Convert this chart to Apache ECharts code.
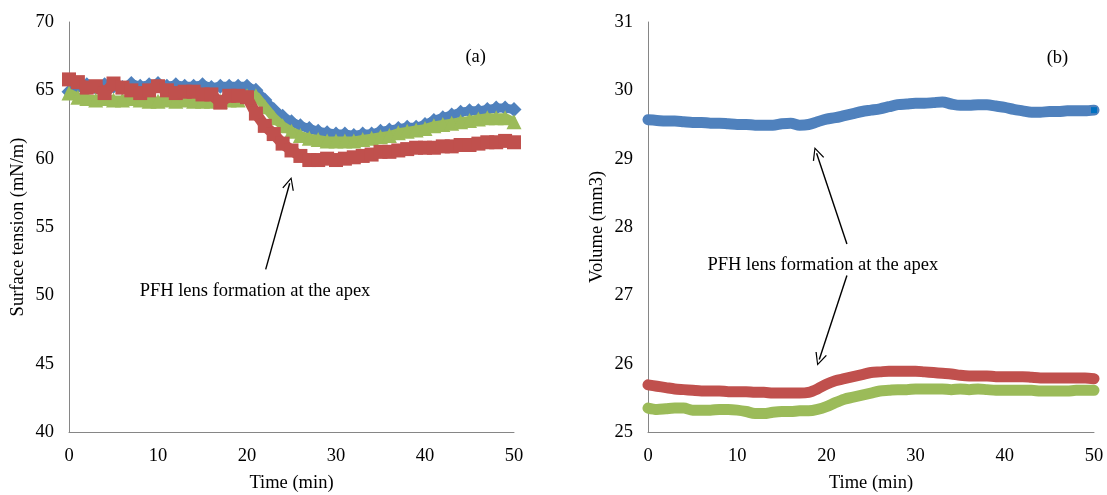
<!DOCTYPE html>
<html>
<head>
<meta charset="utf-8">
<script src="https://cdn.jsdelivr.net/npm/echarts@6/dist/echarts.min.js"></script>
<style>
  html, body { margin: 0; padding: 0; background: #fff; }
  #chart { width: 1107px; height: 495px; }
</style>
</head>
<body>
<div id="chart"></div>
<script>
// Time axis shared by both panels (minutes, one reading per minute)
const timeMin = [0,1,2,3,4,5,6,7,8,9,10,11,12,13,14,15,16,17,18,19,20,21,22,23,24,25,26,27,28,29,30,31,32,33,34,35,36,37,38,39,40,41,42,43,44,45,46,47,48,49,50];

// Panel (a): surface tension, mN/m
const tensionBlue = [64.9,65.3,65.4,65.2,65.4,65.3,65.2,65.5,65.3,65.4,65.5,65.3,65.4,65.3,65.3,65.4,65.2,65.3,65.3,65.3,65.3,65.0,64.3,63.6,63.1,62.7,62.4,62.2,62.0,61.9,61.8,61.8,61.7,61.8,61.8,62.0,62.1,62.2,62.3,62.3,62.5,62.8,63.0,63.2,63.4,63.5,63.5,63.6,63.7,63.7,63.6];
const tensionRed = [65.8,65.6,65.2,65.3,64.8,65.5,65.2,65.0,64.8,65.0,65.3,65.0,64.8,64.9,64.9,64.7,64.7,64.1,64.6,64.6,64.5,63.3,62.4,61.8,61.1,60.6,60.2,59.9,59.9,60.0,59.9,60.0,60.1,60.2,60.3,60.5,60.5,60.6,60.7,60.8,60.8,60.8,60.9,60.9,61.0,61.0,61.1,61.2,61.2,61.3,61.2];
const tensionGreen = [64.8,64.5,64.4,64.3,64.4,64.3,64.3,64.4,64.3,64.2,64.2,64.3,64.2,64.3,64.2,64.2,64.2,64.2,64.3,64.3,64.6,64.6,63.8,63.0,62.4,62.0,61.7,61.5,61.4,61.3,61.3,61.3,61.3,61.4,61.5,61.6,61.7,61.9,62.0,62.1,62.2,62.4,62.5,62.6,62.7,62.8,62.9,63.0,63.0,63.0,62.7];

// Panel (b): drop volume, mm3
const volumeBlue = [29.57,29.56,29.55,29.55,29.54,29.53,29.53,29.52,29.52,29.51,29.50,29.50,29.49,29.49,29.49,29.51,29.52,29.49,29.50,29.54,29.58,29.60,29.63,29.66,29.69,29.71,29.73,29.76,29.79,29.80,29.81,29.81,29.82,29.83,29.80,29.78,29.78,29.79,29.79,29.77,29.75,29.72,29.70,29.68,29.68,29.69,29.69,29.70,29.70,29.70,29.71];
const volumeRed = [25.69,25.67,25.65,25.63,25.62,25.61,25.60,25.60,25.60,25.59,25.59,25.59,25.58,25.58,25.57,25.57,25.57,25.57,25.58,25.63,25.70,25.75,25.78,25.81,25.84,25.87,25.88,25.89,25.89,25.89,25.89,25.88,25.87,25.86,25.85,25.83,25.82,25.82,25.82,25.81,25.81,25.81,25.81,25.80,25.79,25.79,25.79,25.79,25.79,25.79,25.78];
const volumeGreen = [25.35,25.33,25.34,25.35,25.35,25.32,25.32,25.32,25.33,25.33,25.32,25.30,25.27,25.27,25.29,25.30,25.30,25.31,25.31,25.33,25.37,25.43,25.48,25.51,25.54,25.57,25.60,25.61,25.62,25.62,25.63,25.63,25.63,25.63,25.62,25.63,25.62,25.63,25.62,25.61,25.61,25.61,25.61,25.61,25.60,25.60,25.60,25.60,25.61,25.61,25.61];

// Axis ranges and tick steps
const tensionAxis = { min: 40, max: 70, step: 5 };
const volumeAxis = { min: 25, max: 31, step: 1 };
const timeAxis = { min: 0, max: 50, step: 10 };

// Annotations (text, data position)
const noteText = 'PFH lens formation at the apex';
const tensionNotePos = [20.9, 50.3];
const tensionPanelTag = ['(a)', 45.7, 67.4];
const tensionArrow = [[22.1, 51.9], [24.8, 58.2]];
const volumeNotePos = [19.6, 27.44];
const volumePanelTag = ['(b)', 45.9, 30.47];
const volumeArrowUp = [[22.3, 27.75], [18.9, 29.08]];
const volumeArrowDown = [[22.3, 27.29], [19.2, 26.06]];

const BLUE = '#4F81BD', RED = '#C0504D', GREEN = '#9BBB59';
const FONT = '"Liberation Serif", "DejaVu Serif", serif';
const FONT_SIZE = 18.5;
const AXIS_GRAY = '#868686';
const ARROW_HEAD = 'path://M0,13 L6,0 L12,13 L10.8,13.5 L6,2.6 L1.2,13.5 Z';

function pairs(ys) { return timeMin.map((t, i) => [t, ys[i]]); }

function xAxisDef(gridIndex) {
  return {
    type: 'value', gridIndex,
    min: timeAxis.min, max: timeAxis.max, interval: timeAxis.step,
    name: 'Time (min)', nameLocation: 'middle', nameGap: 42,
    nameTextStyle: { fontFamily: FONT, fontSize: FONT_SIZE, color: '#000' },
    axisLine: { show: true, onZero: false, lineStyle: { color: AXIS_GRAY, width: 1 } },
    axisTick: { show: false },
    splitLine: { show: false },
    axisLabel: { fontFamily: FONT, fontSize: FONT_SIZE, color: '#000', margin: 15 }
  };
}

function yAxisDef(gridIndex, rng, name) {
  return {
    type: 'value', gridIndex,
    min: rng.min, max: rng.max, interval: rng.step,
    name, nameLocation: 'middle', nameGap: 41,
    nameTextStyle: { fontFamily: FONT, fontSize: FONT_SIZE, color: '#000' },
    axisLine: { show: true, lineStyle: { color: AXIS_GRAY, width: 1 } },
    axisTick: { show: false },
    splitLine: { show: false },
    axisLabel: { fontFamily: FONT, fontSize: FONT_SIZE, color: '#000', margin: 15 }
  };
}

function textMark(text, coord) {
  return {
    coord, symbol: 'rect', symbolSize: 1,
    itemStyle: { color: 'rgba(0,0,0,0)' },
    label: { show: true, position: 'inside', formatter: text,
             fontFamily: FONT, fontSize: FONT_SIZE, color: '#000' }
  };
}

function arrow(seg) {
  return [
    { coord: seg[0], symbol: 'none' },
    { coord: seg[1], symbol: ARROW_HEAD, symbolSize: [12, 13] }
  ];
}

const arrowStyle = {
  silent: true, animation: false,
  label: { show: false },
  lineStyle: { color: '#000', width: 1.4, type: 'solid' },
  itemStyle: { color: '#000' }
};

function scatterLine(xi, ys, color, symbol, size, width, z) {
  return {
    type: 'line', xAxisIndex: xi, yAxisIndex: xi,
    data: pairs(ys), symbol, symbolSize: size, showSymbol: true,
    itemStyle: { color, borderWidth: 0 },
    lineStyle: { color, width },
    z, animation: false, silent: true
  };
}

function bandLine(xi, ys, color, z) {
  return {
    type: 'line', xAxisIndex: xi, yAxisIndex: xi,
    data: pairs(ys), showSymbol: false, smooth: 0.3,
    lineStyle: { color, width: 11, cap: 'round', join: 'round' },
    z, animation: false, silent: true
  };
}

const chart = echarts.init(document.getElementById('chart'), null, { renderer: 'canvas' });

const series = [
  // Panel (a)
  scatterLine(0, tensionBlue, BLUE, 'diamond', 15, 9, 2),
  scatterLine(0, tensionGreen, GREEN, 'triangle', 15, 9, 3),
  Object.assign(scatterLine(0, tensionRed, RED, 'rect', 14, 11, 4), {
    markLine: Object.assign({ data: [arrow(tensionArrow)] }, arrowStyle),
    markPoint: { silent: true, animation: false, data: [
      textMark(noteText, tensionNotePos),
      textMark(tensionPanelTag[0], tensionPanelTag.slice(1))
    ] }
  }),
  // Panel (b)
  Object.assign(bandLine(1, volumeBlue, BLUE, 2), {
    markPoint: { silent: true, animation: false, data: [
      { coord: [timeMin[timeMin.length - 1], volumeBlue[volumeBlue.length - 1]],
        symbol: 'rect', symbolSize: 6, itemStyle: { color: '#0070C0' }, label: { show: false } }
    ] }
  }),
  Object.assign(bandLine(1, volumeRed, RED, 3), {
    markLine: Object.assign({ data: [arrow(volumeArrowUp), arrow(volumeArrowDown)] }, arrowStyle),
    markPoint: { silent: true, animation: false, data: [
      textMark(noteText, volumeNotePos),
      textMark(volumePanelTag[0], volumePanelTag.slice(1))
    ] }
  }),
  bandLine(1, volumeGreen, GREEN, 3)
];

chart.setOption({
  backgroundColor: '#fff',
  animation: false,
  grid: [
    { left: 69, top: 22, width: 445, height: 410, containLabel: false, outerBoundsMode: 'none' },
    { left: 648, top: 22, width: 446, height: 410, containLabel: false, outerBoundsMode: 'none' }
  ],
  xAxis: [xAxisDef(0), xAxisDef(1)],
  yAxis: [
    yAxisDef(0, tensionAxis, 'Surface tension (mN/m)'),
    yAxisDef(1, volumeAxis, 'Volume (mm3)')
  ],
  series
});
</script>
</body>
</html>
